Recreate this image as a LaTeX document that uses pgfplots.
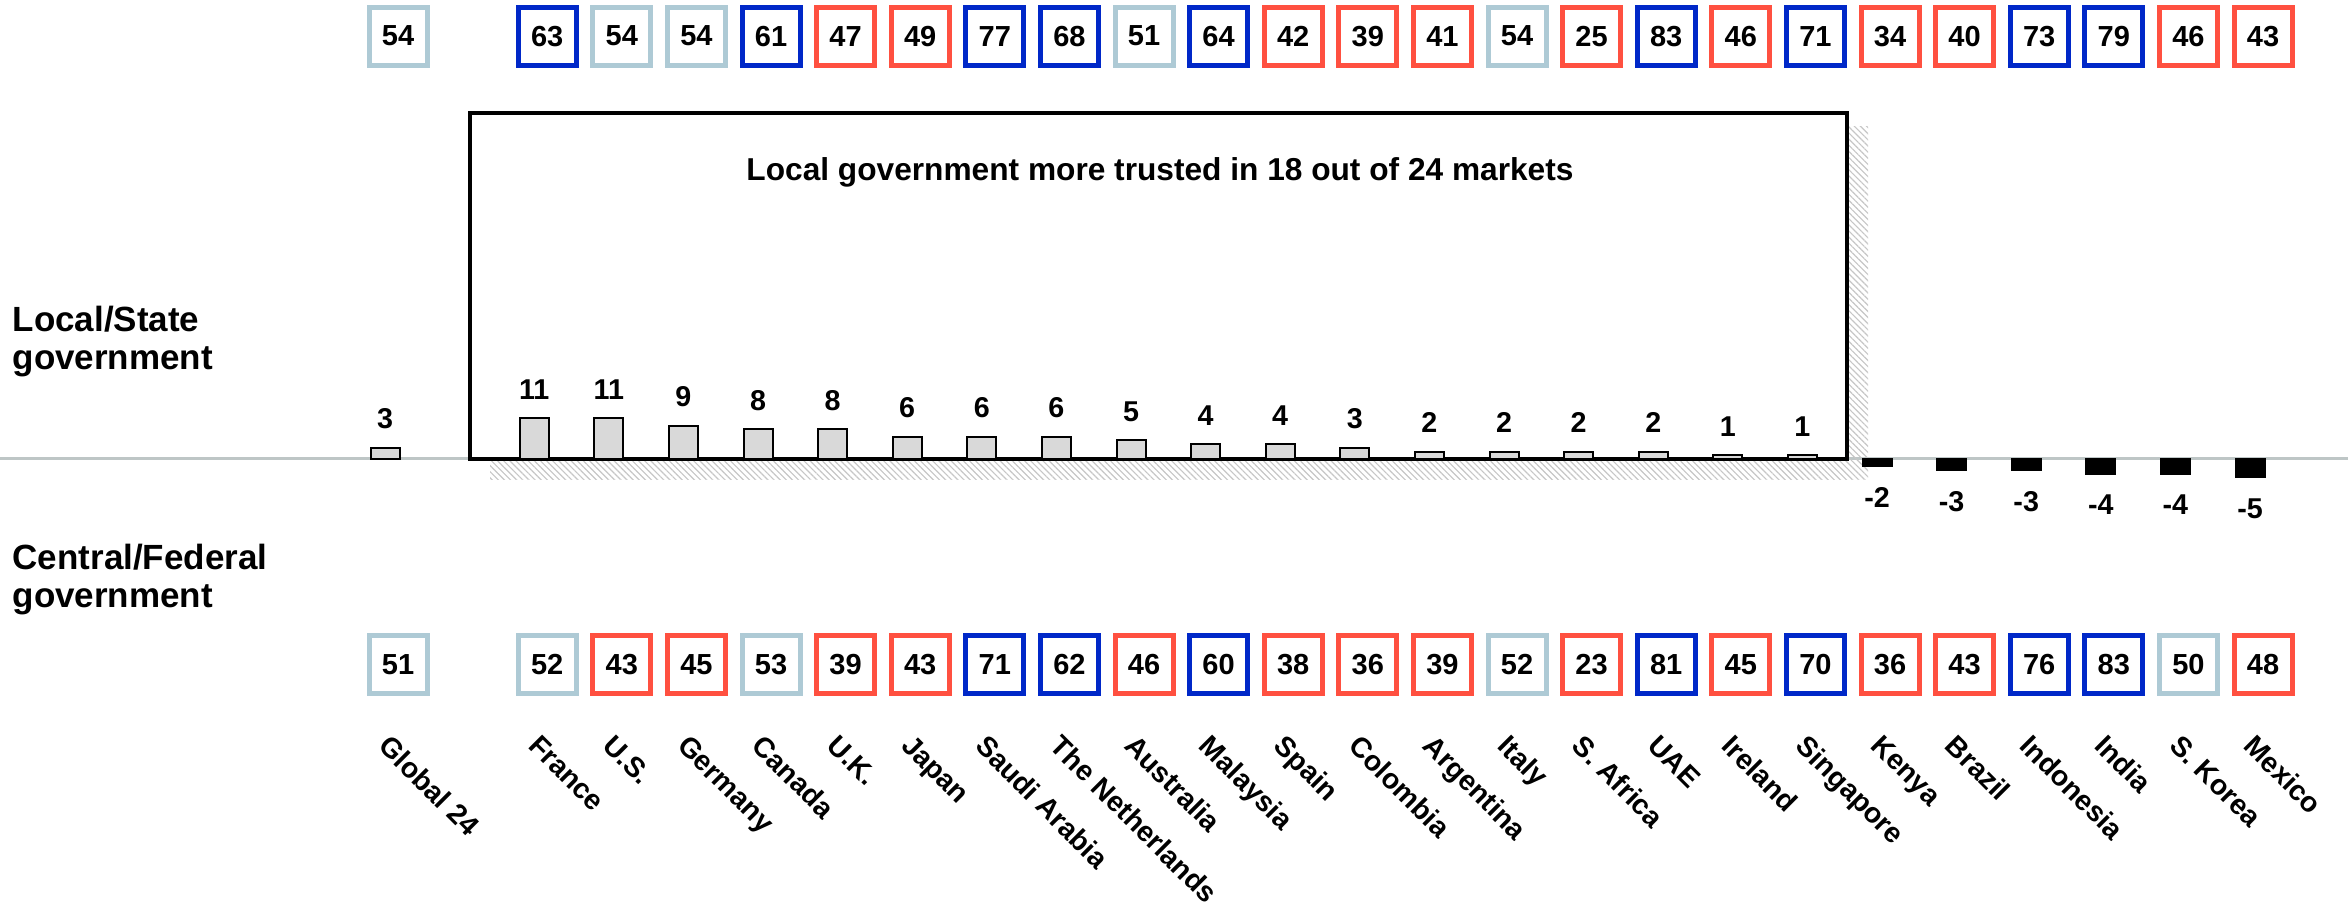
\documentclass[border=0pt]{standalone}
\usepackage{pgfplots}
\pgfplotsset{compat=1.18}
\usepackage{pgfplotstable}
\usepackage{fontspec}
\setmainfont{Liberation Sans}
\usetikzlibrary{patterns.meta}

\definecolor{trustblue}{HTML}{0028C8}
\definecolor{distrustred}{HTML}{FF5040}
\definecolor{neutralgray}{HTML}{AECAD5}
\definecolor{barfill}{HTML}{D9D9D9}
\definecolor{zeroline}{HTML}{BEC6C6}

% i = slot on the x axis, loc = trust in local/state, cen = trust in central/federal
\pgfplotstableread[col sep=comma]{
i,name,loc,cen,diff
0,Global 24,54,51,3
2,France,63,52,11
3,U.S.,54,43,11
4,Germany,54,45,9
5,Canada,61,53,8
6,U.K.,47,39,8
7,Japan,49,43,6
8,Saudi Arabia,77,71,6
9,The Netherlands,68,62,6
10,Australia,51,46,5
11,Malaysia,64,60,4
12,Spain,42,38,4
13,Colombia,39,36,3
14,Argentina,41,39,2
15,Italy,54,52,2
16,S. Africa,25,23,2
17,UAE,83,81,2
18,Ireland,46,45,1
19,Singapore,71,70,1
20,Kenya,34,36,-2
21,Brazil,40,43,-3
22,Indonesia,73,76,-3
23,India,79,83,-4
24,S. Korea,46,50,-4
25,Mexico,43,48,-5
}\data

\pgfplotsset{
  boxrow/.style={only marks, mark=none, nodes near coords, point meta=explicit,
    nodes near coords align=center,
    every node near coord/.append style={anchor=center, draw=#1, fill=white,
      line width=1.5pt, minimum width=17.4pt, minimum height=17.4pt,
      inner sep=0pt, text=black, xshift=3.9pt,
      font=\fontsize{8.7}{10}\selectfont\bfseries}},
}

\begin{document}
\begin{tikzpicture}
\path[use as bounding box] (0,0) rectangle (704.4pt,272.1pt);
% layout drawn in pixel units of the reference
\begin{scope}[x=0.3pt, y=-0.3pt, shift={(0,272.1pt)}]
  \draw[zeroline, line width=0.9pt] (0,459) -- (2348,459);
  \fill[pattern={Lines[angle=-45, distance=1.3pt, line width=0.35pt]}, pattern color=gray!45]
    (490,127) rectangle (1868,480);
  \draw[fill=white, line width=1pt] (470,113) rectangle (1847,459);
  \node[anchor=base, font=\fontsize{9.5}{11}\selectfont\bfseries] at (1160,181)
    {Local government more trusted in 18 out of 24 markets};
  \node[anchor=base west, align=left, inner sep=0pt,
        font=\fontsize{10.5}{11.4}\selectfont\bfseries] at (12,370)
    {Local/State\\government};
  \node[anchor=base west, align=left, inner sep=0pt,
        font=\fontsize{10.5}{11.4}\selectfont\bfseries] at (12,608)
    {Central/Federal\\government};
\end{scope}

\begin{axis}[
  at={(115.5pt,134.4pt)}, anchor=origin,
  x=22.38pt, y=1.11pt,
  xmin=-1, xmax=26, ymin=-80, ymax=125,
  hide axis, clip=false,
  /pgf/number format/assume math mode=true,
]
% difference bars
\addplot[ybar, bar width=8.7pt, bar shift=0pt, fill=barfill, draw=black, line width=0.6pt,
  restrict expr to domain={\thisrow{diff}}{0.5:20},
  nodes near coords,
  every node near coord/.append style={inner sep=0pt, yshift=5.4pt, text=black,
    font=\fontsize{8.6}{10}\selectfont\bfseries}]
  table[x=i, y=diff] {\data};
\addplot[ybar, bar width=8.7pt, bar shift=0pt, fill=black, draw=black, line width=0.6pt,
  restrict expr to domain={\thisrow{diff}}{-20:-0.5},
  nodes near coords,
  every node near coord/.append style={inner sep=0pt, yshift=-6pt, text=black,
    font=\fontsize{8.6}{10}\selectfont\bfseries}]
  table[x=i, y=diff] {\data};

% trust in local/state government
\addplot[boxrow=trustblue, restrict expr to domain={\thisrow{loc}}{59.5:100}]
  table[x=i, y expr=114.3, meta=loc] {\data};
\addplot[boxrow=neutralgray, restrict expr to domain={\thisrow{loc}}{49.5:59.5}]
  table[x=i, y expr=114.3, meta=loc] {\data};
\addplot[boxrow=distrustred, restrict expr to domain={\thisrow{loc}}{0:49.5}]
  table[x=i, y expr=114.3, meta=loc] {\data};

% trust in central/federal government
\addplot[boxrow=trustblue, restrict expr to domain={\thisrow{cen}}{59.5:100}]
  table[x=i, y expr=-55.5, meta=cen] {\data};
\addplot[boxrow=neutralgray, restrict expr to domain={\thisrow{cen}}{49.5:59.5}]
  table[x=i, y expr=-55.5, meta=cen] {\data};
\addplot[boxrow=distrustred, restrict expr to domain={\thisrow{cen}}{0:49.5}]
  table[x=i, y expr=-55.5, meta=cen] {\data};

% market names
\addplot[only marks, mark=none, nodes near coords, point meta=explicit symbolic,
  nodes near coords align=north west,
  every node near coord/.append style={anchor=north west, rotate=-45, inner sep=0pt,
    text=black, font=\fontsize{8.5}{10}\selectfont\bfseries}]
  table[x expr=\thisrow{i}+0.09, y expr=-73.9, meta=name] {\data};
\end{axis}
\end{tikzpicture}
\end{document}
